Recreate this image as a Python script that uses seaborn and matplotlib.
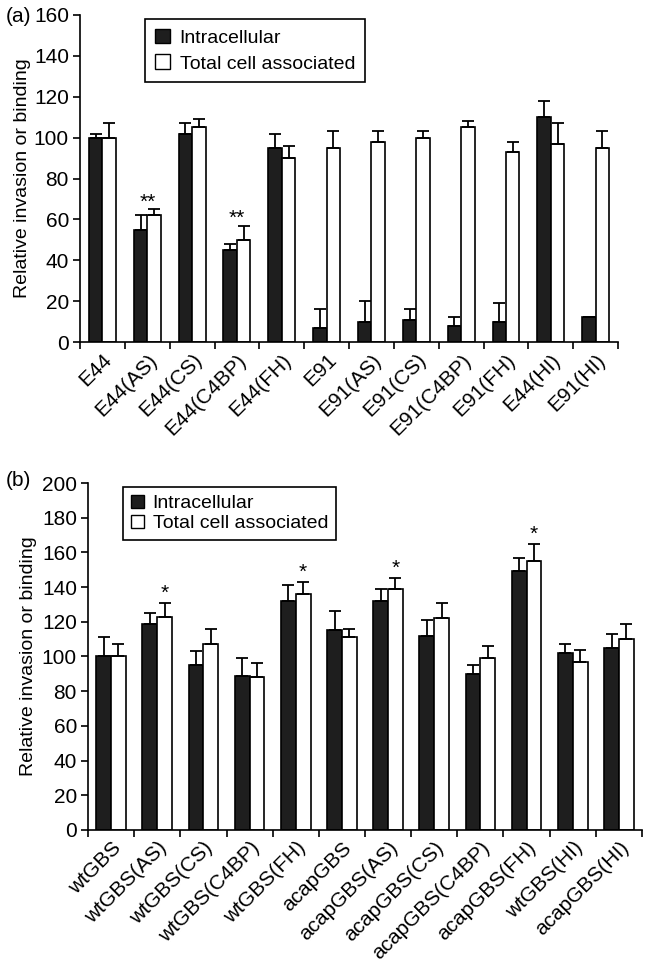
import numpy as np
import pandas as pd
import matplotlib
matplotlib.use("Agg")
import matplotlib.pyplot as plt
import seaborn as sns

# ---------------- data ----------------
series = ["Intracellular", "Total cell associated"]

cats_a = ["E44", "E44(AS)", "E44(CS)", "E44(C4BP)", "E44(FH)", "E91",
          "E91(AS)", "E91(CS)", "E91(C4BP)", "E91(FH)", "E44(HI)", "E91(HI)"]
intra_a = [100, 55, 102, 45, 95, 7, 10, 11, 8, 10, 110, 12]
intra_err_a = [2, 7, 5, 3, 7, 9, 10, 5, 4, 9, 8, 0]
total_a = [100, 62, 105, 50, 90, 95, 98, 100, 105, 93, 97, 95]
total_err_a = [7, 3, 4, 7, 6, 8, 5, 3, 3, 5, 10, 8]
stars_a = {"E44(AS)": "**", "E44(C4BP)": "**"}   # centred over the group

cats_b = ["wtGBS", "wtGBS(AS)", "wtGBS(CS)", "wtGBS(C4BP)", "wtGBS(FH)", "acapGBS",
          "acapGBS(AS)", "acapGBS(CS)", "acapGBS(C4BP)", "acapGBS(FH)", "wtGBS(HI)", "acapGBS(HI)"]
intra_b = [100, 119, 95, 89, 132, 115, 132, 112, 90, 149, 102, 105]
intra_err_b = [11, 6, 8, 10, 9, 11, 7, 9, 5, 8, 5, 8]
total_b = [100, 123, 107, 88, 136, 111, 139, 122, 99, 155, 97, 110]
total_err_b = [7, 8, 9, 8, 7, 5, 6, 9, 7, 10, 7, 9]
stars_b = {"wtGBS(AS)": "*", "wtGBS(FH)": "*", "acapGBS(AS)": "*", "acapGBS(FH)": "*"}  # over white bar

ylabel = "Relative invasion or binding"

# ---------------- style ----------------
sns.set_theme(style="ticks")
plt.rcParams["font.family"] = ["Liberation Sans", "DejaVu Sans"]
plt.rcParams.update({
    "font.size": 14,
    "axes.linewidth": 1.2,
    "axes.edgecolor": "black",
    "xtick.color": "black",
    "ytick.color": "black",
    "text.color": "black",
    "axes.labelcolor": "black",
})

palette = {series[0]: "#1e1e1e", series[1]: "white"}

fig = plt.figure(figsize=(6.49, 9.67), dpi=100)
ax_a = fig.add_axes([0.1233, 0.6463, 0.829, 0.3382])
ax_b = fig.add_axes([0.1356, 0.1417, 0.8536, 0.3588])


def panel(ax, cats, intra, ierr, total, terr, width, ymax, stars, star_on_white,
          star_pad, legend_anchor, leg_kw):
    n = len(cats)
    df = pd.DataFrame({
        "cat": list(cats) * 2,
        "series": [series[0]] * n + [series[1]] * n,
        "value": list(intra) + list(total),
    })
    sns.barplot(data=df, x="cat", y="value", hue="series", order=cats,
                hue_order=series, palette=palette, edgecolor="black",
                linewidth=1.2, width=width, errorbar=None, saturation=1,
                ax=ax)
    errs = [ierr, terr]
    tops = {}
    for k, cont in enumerate(ax.containers[:2]):
        xs = [b.get_x() + b.get_width() / 2 for b in cont]
        ys = [b.get_height() for b in cont]
        ax.errorbar(xs, ys, yerr=[np.zeros(n), errs[k]], fmt="none",
                    ecolor="black", elinewidth=1.3, capsize=4.5, capthick=1.3,
                    zorder=3)
        for i, c in enumerate(cats):
            tops.setdefault(c, []).append((xs[i], ys[i] + errs[k][i]))
    for c, s in stars.items():
        if star_on_white:
            x, y = tops[c][1]
        else:
            x = np.mean([t[0] for t in tops[c]])
            y = max(t[1] for t in tops[c])
        ax.annotate(s, (x, y), xytext=(0, star_pad), textcoords="offset points",
                    ha="center", va="baseline", fontsize=15)

    ax.set_xlim(-0.5, n - 0.5)
    ax.set_ylim(0, ymax)
    ax.set_yticks(np.arange(0, ymax + 1, 20))
    ax.set_xticks(range(n))
    ax.set_xticklabels(cats, rotation=45, ha="right", rotation_mode="anchor")
    ax.set_xticks(np.arange(-0.5, n, 1), minor=True)
    ax.tick_params(axis="x", which="major", length=0, pad=6, labelsize=15)
    ax.tick_params(axis="x", which="minor", length=5, width=1.2, direction="out")
    ax.tick_params(axis="y", length=5, width=1.2, direction="out", pad=3, labelsize=15)
    ax.set_xlabel("")
    ax.set_ylabel(ylabel, fontsize=14, va="center")
    sns.despine(ax=ax)
    sns.move_legend(ax, "upper left", bbox_to_anchor=legend_anchor, title=None,
                    frameon=True, fancybox=False, framealpha=1, edgecolor="black",
                    fontsize=14, borderaxespad=0, **leg_kw)
    leg = ax.get_legend()
    leg.get_frame().set_linewidth(1.2)
    for h in leg.legend_handles:
        h.set_edgecolor("black")
        h.set_linewidth(1.0)


panel(ax_a, cats_a, intra_a, intra_err_a, total_a, total_err_a, 0.6, 160,
      stars_a, False, 1, (0.121, 0.988),
      dict(handlelength=0.78, handleheight=0.78, handletextpad=0.5,
           borderpad=0.5, labelspacing=0.4))
panel(ax_b, cats_b, intra_b, intra_err_b, total_b, total_err_b, 0.64, 200,
      stars_b, True, 3, (0.063, 0.988),
      dict(handlelength=0.68, handleheight=0.68, handletextpad=0.45,
           borderpad=0.4, labelspacing=0.12))

ax_a.yaxis.set_label_coords(-0.106, 0.5)
ax_b.yaxis.set_label_coords(-0.108, 0.5)

fig.text(6 / 649, 1 - 17 / 967, "(a)", ha="left", va="center", fontsize=15)
fig.text(6 / 649, 1 - 481 / 967, "(b)", ha="left", va="center", fontsize=15)

fig.savefig("out.png", dpi=100)
